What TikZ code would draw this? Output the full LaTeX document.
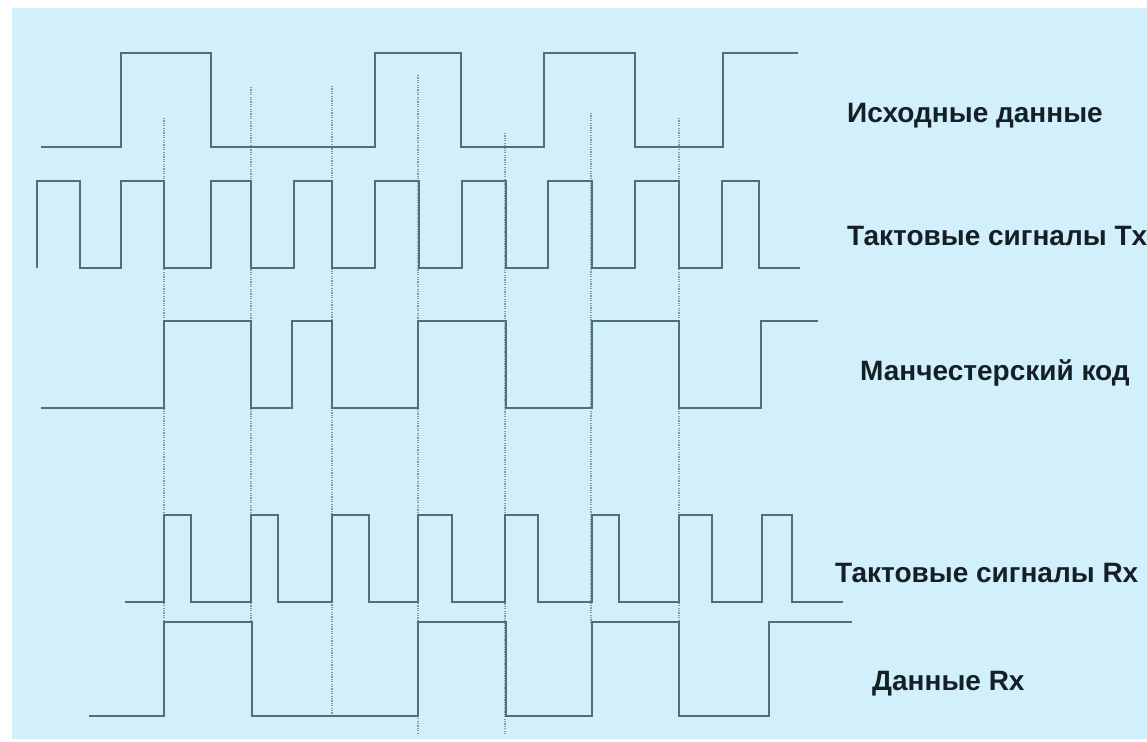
\documentclass[tikz,border=0pt]{standalone}
\usepackage{fontspec}
\setmainfont{Liberation Sans}
\begin{document}
\begin{tikzpicture}[x=1pt,y=-1pt,
  wave/.style={draw=wavecol,line width=2.2pt,line join=miter},
  guide/.style={draw=guidecol,line width=1.1pt,dash pattern=on 1.2pt off 1.2pt},
  lbl/.style={anchor=base west,inner sep=0pt,text=labelcol,font=\fontsize{28}{30}\selectfont\bfseries}]
\definecolor{bgcol}{HTML}{D2F0FB}
\definecolor{wavecol}{HTML}{4F6F7D}
\definecolor{guidecol}{HTML}{7F9CA8}
\definecolor{labelcol}{HTML}{141F26}
\useasboundingbox (0,0) rectangle (1147,741);
\fill[white] (0,0) rectangle (1147,741);
\fill[bgcol] (12,8) rectangle (1147,739);
% guide lines
\draw[guide] (164,118) -- (164,622);
\draw[guide] (251,87) -- (251,622);
\draw[guide] (332,86) -- (332,716);
\draw[guide] (418,75) -- (418,735);
\draw[guide] (505,133) -- (505,735);
\draw[guide] (591,113) -- (591,622);
\draw[guide] (679,118) -- (679,622);
% original data
\draw[wave] (41,147) -- (121,147) -- (121,53) -- (211,53) -- (211,147) -- (375,147) -- (375,53) -- (461,53) -- (461,147) -- (544,147) -- (544,53) -- (635,53) -- (635,147) -- (723,147) -- (723,53) -- (798,53);
% Tx clock
\draw[wave] (37,268) -- (37,181) -- (80,181) -- (80,268) -- (121,268) -- (121,181) -- (164,181) -- (164,268) -- (211,268) -- (211,181) -- (251,181) -- (251,268) -- (294,268) -- (294,181) -- (332,181) -- (332,268) -- (375,268) -- (375,181) -- (419,181) -- (419,268) -- (462,268) -- (462,181) -- (506,181) -- (506,268) -- (548,268) -- (548,181) -- (592,181) -- (592,268) -- (635,268) -- (635,181) -- (679,181) -- (679,268) -- (722,268) -- (722,181) -- (759,181) -- (759,268) -- (800,268);
% Manchester
\draw[wave] (41,408) -- (164,408) -- (164,321) -- (251,321) -- (251,408) -- (292,408) -- (292,321) -- (332,321) -- (332,408) -- (418,408) -- (418,321) -- (506,321) -- (506,408) -- (592,408) -- (592,321) -- (679,321) -- (679,408) -- (761,408) -- (761,321) -- (818,321);
% Rx clock
\draw[wave] (125,602) -- (164,602) -- (164,515) -- (191,515) -- (191,602) -- (251,602) -- (251,515) -- (278,515) -- (278,602) -- (332,602) -- (332,515) -- (369,515) -- (369,602) -- (418,602) -- (418,515) -- (452,515) -- (452,602) -- (505,602) -- (505,515) -- (538,515) -- (538,602) -- (592,602) -- (592,515) -- (619,515) -- (619,602) -- (679,602) -- (679,515) -- (712,515) -- (712,602) -- (762,602) -- (762,515) -- (792,515) -- (792,602) -- (843,602);
% Rx data
\draw[wave] (89,716) -- (164,716) -- (164,622) -- (252,622) -- (252,716) -- (418,716) -- (418,622) -- (506,622) -- (506,716) -- (592,716) -- (592,622) -- (679,622) -- (679,716) -- (769,716) -- (769,622) -- (852,622);
% labels
\node[lbl] (l1) at (847,122) {Исходные данные};
\node[lbl] (l2) at (847,245) {Тактовые сигналы Tx};
\node[lbl] (l3) at (860,380) {Манчестерский код};
\node[lbl] (l4) at (835,582) {Тактовые сигналы Rx};
\node[lbl] (l5) at (872,690) {Данные Rx};
\end{tikzpicture}
\end{document}
